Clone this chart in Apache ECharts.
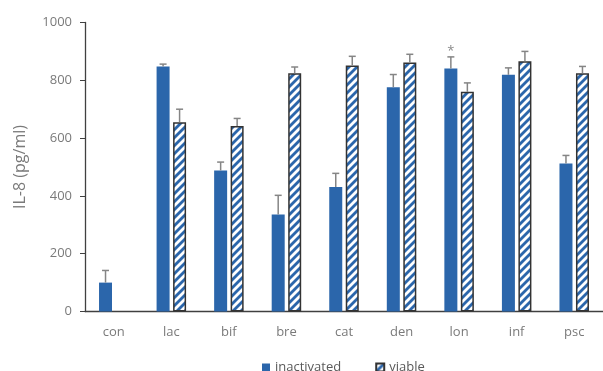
<!DOCTYPE html>
<html>
<head>
<meta charset="utf-8">
<script src="https://cdn.jsdelivr.net/npm/echarts@6/dist/echarts.min.js"></script>
<style>html,body{margin:0;padding:0;background:#fff}#c{width:603px;height:371px}</style>
</head>
<body>
<div id="c"></div>
<script>
const categories = ['con','lac','bif','bre','cat','den','lon','inf','psc'];
const inactivated = [100, 848, 488, 336, 431, 776, 841, 819, 512];
const inactivatedErr = [42, 8, 29, 66, 47, 44, 40, 24, 28];
const viable = [null, 655, 642, 824, 851, 862, 760, 866, 824];
const viableErr = [null, 45, 26, 22, 32, 28, 31, 34, 24];
const inactivatedMarks = ['', '', '', '', '', '', '*', '', ''];
const yTicks = [0, 200, 400, 600, 800, 1000];

const BLUE = '#2b66ab';
const FONT = '"Open Sans", "Noto Sans", sans-serif';
const BAR_W = 13, BAR_GAP = 3.5;
const OFF = (BAR_W + BAR_GAP) / 2;

function hatch() {
  const c = document.createElement('canvas');
  c.width = 8; c.height = 8;
  const g = c.getContext('2d');
  g.fillStyle = '#fff'; g.fillRect(0, 0, 8, 8);
  g.strokeStyle = BLUE; g.lineWidth = 2.8;
  [[-1, 9, 9, -1], [-5, 5, 5, -5], [3, 13, 13, 3]].forEach(l => {
    g.beginPath(); g.moveTo(l[0], l[1]); g.lineTo(l[2], l[3]); g.stroke();
  });
  return c;
}
const hatchPattern = { image: hatch(), repeat: 'repeat' };

function errData(vals, errs, marks) {
  return vals.map((v, i) => v == null ? null : [i, v, errs[i], marks ? marks[i] : '']).filter(d => d);
}
function errSeries(vals, errs, sign, marks) {
  const rows = errData(vals, errs, marks);
  return {
    type: 'custom', silent: true, z: 5,
    data: rows.map(r => r.slice(0, 3)),
    renderItem: function (params, api) {
      const i = api.value(0), v = api.value(1), e = api.value(2);
      const b = api.coord([i, v]);
      const t = api.coord([i, v + e]);
      const x = b[0] + sign * OFF;
      const st = { stroke: '#858585', lineWidth: 1.5 };
      const children = [
        { type: 'line', shape: { x1: x, y1: b[1], x2: x, y2: t[1] }, style: st },
        { type: 'line', shape: { x1: x - 3.5, y1: t[1], x2: x + 3.5, y2: t[1] }, style: st }
      ];
      const full = rows[params.dataIndexInside];
      if (full && full[3]) {
        children.push({ type: 'text', style: { text: full[3], x: x, y: t[1] - 6, align: 'center', verticalAlign: 'middle', fill: '#8a8a8a', font: '13px ' + FONT } });
      }
      return { type: 'group', children: children };
    }
  };
}

const chart = echarts.init(document.getElementById('c'));
chart.setOption({
  animation: false,
  textStyle: { fontFamily: FONT },
  grid: { left: 85, top: 22.5, bottom: 59.5, right: -8.5, containLabel: false },
  legend: {
    data: [{ name: 'inactivated', icon: 'rect' }, { name: 'viable', icon: 'rect' }],
    left: 257, top: 356,
    itemWidth: 8, itemHeight: 8, itemGap: 34,
    textStyle: { color: '#595959', fontSize: 13, fontFamily: FONT }
  },
  xAxis: {
    type: 'category', data: categories,
    axisLine: { lineStyle: { color: '#404040', width: 1.3 } },
    axisTick: { length: 5, lineStyle: { color: '#404040' } },
    axisLabel: { color: '#7a7a7a', fontSize: 13, margin: 14, fontFamily: FONT }
  },
  yAxis: {
    type: 'value', min: 0, max: 1000, interval: 200,
    name: 'IL-8 (pg/ml)', nameLocation: 'middle', nameGap: 57,
    nameTextStyle: { color: '#7a7a7a', fontSize: 16, fontFamily: FONT },
    axisLine: { show: true, lineStyle: { color: '#404040', width: 1.3 } },
    axisTick: { show: true, length: 5, lineStyle: { color: '#404040' } },
    axisLabel: { color: '#7a7a7a', fontSize: 13, margin: 13, fontFamily: FONT,
      formatter: v => yTicks.indexOf(v) >= 0 ? String(v) : '' },
    splitLine: { show: false }
  },
  series: [
    { name: 'inactivated', type: 'bar', data: inactivated, barWidth: BAR_W, barGap: (BAR_GAP / BAR_W * 100) + '%',
      itemStyle: { color: BLUE } },
    { name: 'viable', type: 'bar', data: viable, barWidth: BAR_W,
      itemStyle: { color: hatchPattern, borderColor: '#333', borderWidth: 1.5 } },
    errSeries(inactivated, inactivatedErr, -1, inactivatedMarks),
    errSeries(viable, viableErr, 1, null)
  ]
});
</script>
</body>
</html>
